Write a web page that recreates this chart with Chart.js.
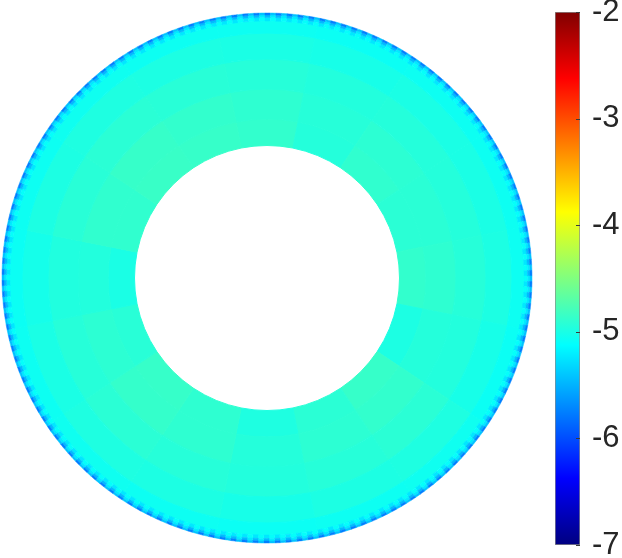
<!DOCTYPE html>
<html>
<head>
<meta charset="utf-8">
<script src="https://cdn.jsdelivr.net/npm/chart.js@4/dist/chart.umd.min.js"></script>
<style>
    html, body { margin: 0; padding: 0; background: #fff; overflow: hidden; width: 622px; height: 558px; }
    #ringBox { position: absolute; left: 0; top: 11px; width: 534px; height: 534px; }
    #barBox { position: absolute; left: 540px; top: 0; width: 82px; height: 558px; }
</style>
</head>
<body>
<div id="ringBox"><canvas id="ringChart"></canvas></div>
<div id="barBox"><canvas id="barChart"></canvas></div>
<script>
// colour range of the field and colorbar ticks
const colorMin = -7;
const colorMax = -2;
const colorTicks = [-7, -6, -5, -4, -3, -2];

// angular sectors, clockwise from the top
const sectorLabels = ['N', 'NNE', 'NE', 'ENE', 'E', 'ESE', 'SE', 'SSE', 'S', 'SSW', 'SW', 'WSW', 'W', 'WNW', 'NW', 'NNW'];

// field values per ring, inner ring first
const ring1 = [-4.88, -4.95, -4.89, -4.92, -4.88, -4.99, -4.86, -4.92, -4.98, -4.90, -4.86, -4.93, -5.00, -4.89, -4.85, -4.86];
const ring2 = [-4.90, -4.94, -4.91, -4.92, -4.90, -4.95, -4.88, -4.91, -4.95, -4.90, -4.87, -4.91, -4.96, -4.89, -4.86, -4.88];
const ring3 = [-4.94, -4.96, -4.95, -4.95, -4.94, -4.96, -4.92, -4.94, -4.96, -4.94, -4.92, -4.94, -4.97, -4.93, -4.92, -4.93];
const ring4 = [-5.00, -5.01, -5.00, -5.00, -4.99, -5.01, -4.98, -4.99, -5.01, -4.99, -4.98, -5.00, -5.02, -4.99, -4.98, -4.99];
const ring5 = [-5.06, -5.07, -5.06, -5.06, -5.06, -5.07, -5.05, -5.06, -5.07, -5.06, -5.05, -5.06, -5.07, -5.06, -5.05, -5.06];

// saw-tooth boundary cells along the outer rim
const edgeCells = 300;
const edgeInnerPattern = [-5.10, -5.24];
const edgeMidPattern = [-5.22, -5.46];
const edgeOuterPattern = [-5.42, -5.75];

function jet(v) {
    const t = Math.min(Math.max((v - colorMin) / (colorMax - colorMin), 0), 1);
    const c = x => Math.round(255 * Math.min(Math.max(x, 0), 1));
    const r = c(Math.min(4 * t - 1.5, -4 * t + 4.5));
    const g = c(Math.min(4 * t - 0.5, -4 * t + 3.5));
    const b = c(Math.min(4 * t + 0.5, -4 * t + 2.5));
    return `rgb(${r},${g},${b})`;
}

function ringDataset(values, weight) {
    const colors = values.map(jet);
    return {
        data: values.map(() => 1),
        backgroundColor: colors,
        borderColor: colors,
        borderWidth: 1,
        weight: weight,
    };
}

function edgeDataset(pattern, weight) {
    const cells = Array(edgeCells).fill(1);
    const colors = cells.map((_, i) => jet(pattern[i % pattern.length]));
    return {
        data: cells,
        backgroundColor: colors,
        borderColor: colors,
        borderWidth: 0.5,
        weight: weight,
    };
}

new Chart(document.getElementById('ringChart'), {
    type: 'doughnut',
    data: {
        labels: sectorLabels,
        datasets: [
            edgeDataset(edgeOuterPattern, 2),
            edgeDataset(edgeMidPattern, 2.5),
            edgeDataset(edgeInnerPattern, 3.5),
            ringDataset(ring5, 12),
            ringDataset(ring4, 26),
            ringDataset(ring3, 30),
            ringDataset(ring2, 30),
            ringDataset(ring1, 26.5),
        ],
    },
    options: {
        responsive: true,
        maintainAspectRatio: false,
        animation: false,
        events: [],
        radius: 265,
        cutout: '50%',
        rotation: -11.25,
        layout: { padding: 0 },
        plugins: {
            legend: { display: false },
            tooltip: { enabled: false },
        },
    },
});

// small inward tick marks on the right edge of the colorbar
const innerTicks = {
    id: 'innerTicks',
    afterDatasetsDraw(chart) {
        const { ctx, chartArea, scales } = chart;
        ctx.save();
        ctx.strokeStyle = '#3a3a3a';
        ctx.lineWidth = 1;
        colorTicks.forEach(v => {
            const y = Math.round(scales.y.getPixelForValue(v)) + 0.5;
            ctx.beginPath();
            ctx.moveTo(chartArea.right, y);
            ctx.lineTo(chartArea.right - 4, y);
            ctx.stroke();
        });
        ctx.restore();
    },
};

new Chart(document.getElementById('barChart'), {
    type: 'bar',
    data: {
        labels: [''],
        datasets: [{
            data: [[colorMin, colorMax]],
            backgroundColor: context => {
                const { ctx, chartArea } = context.chart;
                if (!chartArea) {
                    return jet(-4.5);
                }
                const grad = ctx.createLinearGradient(0, chartArea.bottom, 0, chartArea.top);
                const stops = [0, 0.125, 0.375, 0.625, 0.875, 1];
                stops.forEach(s => {
                    const v = colorMin + s * (colorMax - colorMin);
                    grad.addColorStop(s, jet(v));
                });
                return grad;
            },
            borderColor: '#8a8a8a',
            borderWidth: 1,
            borderSkipped: false,
            barPercentage: 1,
            categoryPercentage: 1,
        }],
    },
    options: {
        responsive: true,
        maintainAspectRatio: false,
        animation: false,
        events: [],
        layout: {
            padding: { left: 15, right: 0, top: 12, bottom: 13 },
        },
        plugins: {
            legend: { display: false },
            tooltip: { enabled: false },
        },
        scales: {
            x: { display: false },
            y: {
                position: 'right',
                min: colorMin,
                max: colorMax,
                afterBuildTicks: scale => {
                    scale.ticks = colorTicks.map(v => ({ value: v }));
                },
                afterFit: scale => {
                    scale.width = 42;
                    scale.paddingTop = 0;
                    scale.paddingBottom = 0;
                },
                grid: { display: false, drawTicks: false },
                border: { display: false },
                ticks: {
                    padding: 12,
                    color: '#262626',
                    font: { family: 'Liberation Sans, Arial, sans-serif', size: 31 },
                },
            },
        },
    },
    plugins: [innerTicks],
});
</script>
</body>
</html>
